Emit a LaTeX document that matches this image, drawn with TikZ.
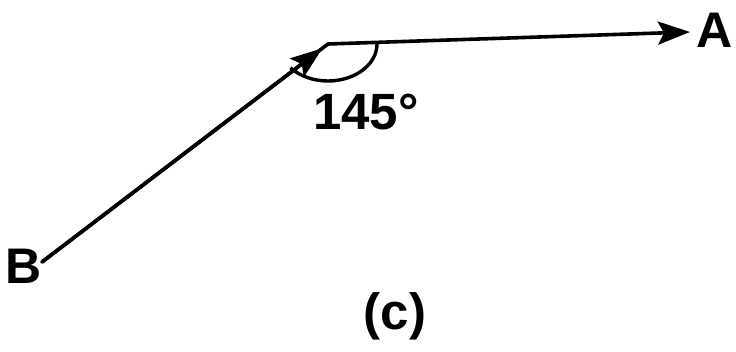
\documentclass[tikz,border=0pt]{standalone}
\usepackage{fontspec}
\setmainfont{Liberation Sans}
\usetikzlibrary{arrows.meta,calc}
\begin{document}
\begin{tikzpicture}[x=1pt,y=-1pt,
  vec/.style={line width=3.6pt,line cap=round},
  tip/.style={-{Stealth[length=32pt,width=23pt,inset=6pt]}},
  lbl/.style={font=\fontsize{50}{50}\selectfont\bfseries,inner sep=0pt},
  txt/.style={font=\fontsize{51}{51}\selectfont\bfseries,inner sep=0pt}]
\useasboundingbox (0,0) rectangle (736,352);
\coordinate (O) at (328,44);
\coordinate (Bp) at (42,262);
\coordinate (Ap) at (690,32);
\coordinate (M) at ($(O)!7pt!(Bp)$);
\node[lbl] (A) at (715,30) {A};
\node[lbl] (B) at (24,266) {B};
\node[txt] (ang) at (366,112) {145°};
\node[txt] (cap) at (395,316) {(c)};
\draw[vec] (Bp) -- (O);
\draw[vec,tip] (Bp) -- (M);
\draw[vec,tip] (O) -- (Ap);
\draw[line width=3.4pt] (O) ++(0:49) arc[start angle=0,end angle=140,x radius=49,y radius=37];
\end{tikzpicture}
\end{document}
